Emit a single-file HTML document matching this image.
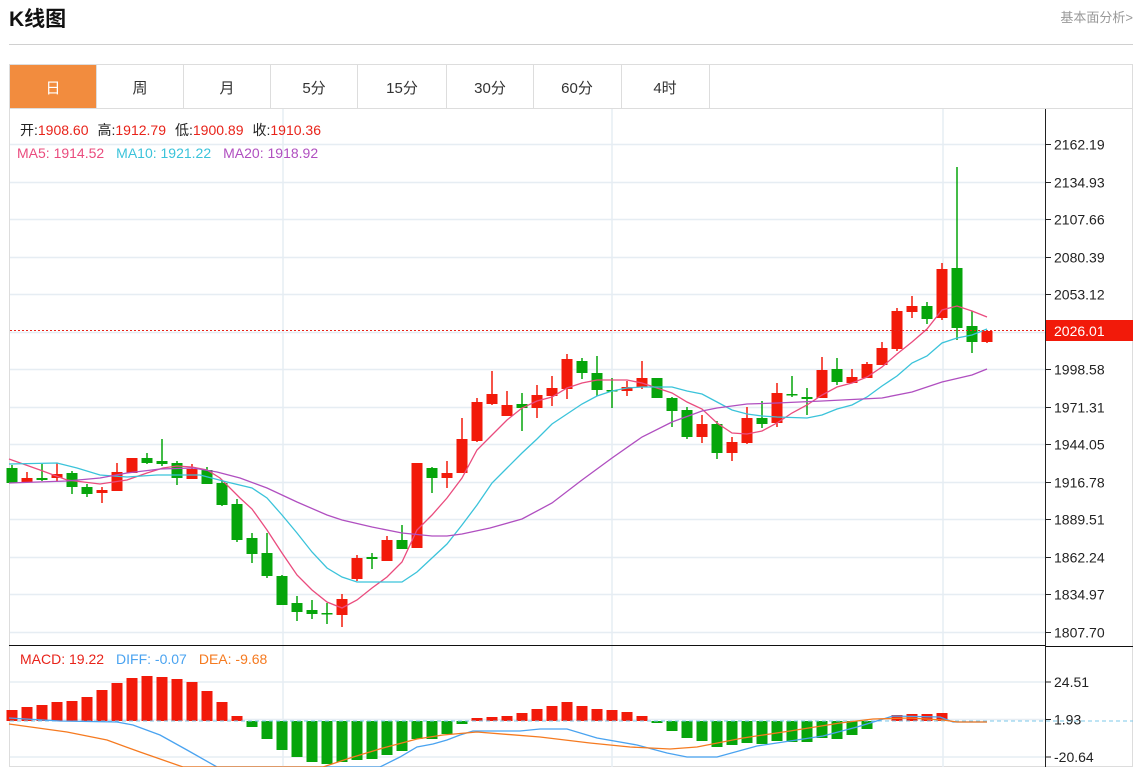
<!DOCTYPE html>
<html><head><meta charset="utf-8">
<style>
html,body{margin:0;padding:0;background:#fff;width:1142px;height:767px;overflow:hidden;font-family:"Liberation Sans","Noto Sans CJK SC",sans-serif;}
</style></head>
<body>
<svg id="s" width="1142" height="767" xmlns="http://www.w3.org/2000/svg" font-family="Liberation Sans, Noto Sans CJK SC, sans-serif">
<text x="9" y="26" font-size="21" font-weight="bold" fill="#111">K线图</text>
<text x="1133" y="22" font-size="13" fill="#999" text-anchor="end">基本面分析&gt;</text>
<line x1="9" y1="44.5" x2="1133" y2="44.5" stroke="#d0d0d0"/>
<rect x="9.5" y="64.5" width="1123" height="702" fill="none" stroke="#ddd"/>
<line x1="9" y1="108.5" x2="1133" y2="108.5" stroke="#ddd"/>
<rect x="10" y="65" width="86" height="43" fill="#f28c3e"/>
<g font-size="15" text-anchor="middle" fill="#333">
<text x="53" y="93" fill="#fff">日</text>
<text x="140" y="93">周</text><text x="227" y="93">月</text><text x="314" y="93">5分</text>
<text x="402" y="93">15分</text><text x="490" y="93">30分</text><text x="577" y="93">60分</text><text x="665" y="93">4时</text>
</g>
<g stroke="#ddd"><line x1="96.5" y1="65" x2="96.5" y2="108"/><line x1="183.5" y1="65" x2="183.5" y2="108"/><line x1="270.5" y1="65" x2="270.5" y2="108"/><line x1="357.5" y1="65" x2="357.5" y2="108"/><line x1="446.5" y1="65" x2="446.5" y2="108"/><line x1="533.5" y1="65" x2="533.5" y2="108"/><line x1="621.5" y1="65" x2="621.5" y2="108"/><line x1="709.5" y1="65" x2="709.5" y2="108"/></g>
<g id="grid"></g>
<g id="plot"></g>
<line x1="1045.5" y1="109" x2="1045.5" y2="767" stroke="#222"/>
<line x1="9" y1="645.5" x2="1045" y2="645.5" stroke="#111"/>
<line x1="1045" y1="646.5" x2="1133" y2="646.5" stroke="#111"/>
<g font-size="14">
<text x="20" y="135"><tspan fill="#222">开:</tspan><tspan fill="#e8231a">1908.60</tspan><tspan fill="#222" dx="9">高:</tspan><tspan fill="#e8231a">1912.79</tspan><tspan fill="#222" dx="9">低:</tspan><tspan fill="#e8231a">1900.89</tspan><tspan fill="#222" dx="9">收:</tspan><tspan fill="#e8231a">1910.36</tspan></text>
<text x="17" y="158"><tspan fill="#ea4c7e">MA5: 1914.52</tspan><tspan fill="#3bc3da" dx="12">MA10: 1921.22</tspan><tspan fill="#b04fc0" dx="12">MA20: 1918.92</tspan></text>
<text x="20" y="664"><tspan fill="#e8231a">MACD: 19.22</tspan><tspan fill="#4aa3f0" dx="12">DIFF: -0.07</tspan><tspan fill="#f57a20" dx="12">DEA: -9.68</tspan></text>
</g>
</svg>
<script>
var NS="http://www.w3.org/2000/svg";
function el(p,t,a){var e=document.createElementNS(NS,t);for(var k in a)e.setAttribute(k,a[k]);p.appendChild(e);return e;}
var g=document.getElementById('grid'),p=document.getElementById('plot'),s=document.getElementById('s');
var labs=["2162.19","2134.93","2107.66","2080.39","2053.12","2026.01","1998.58","1971.31","1944.05","1916.78","1889.51","1862.24","1834.97","1807.70"];
for(var i=0;i<14;i++){var y=Math.round(144+i*37.54)+0.5;
 el(g,'line',{x1:10,y1:y,x2:1045,y2:y,stroke:'#e6edf3','stroke-width':1.5});
 el(s,'line',{x1:1045,y1:y,x2:1051,y2:y,stroke:'#222'});
 if(i!=5){var t=el(s,'text',{x:1054,y:y+5,'font-size':14,fill:'#222'});t.textContent=labs[i];}}
[[682,"24.51"],[719.5,"1.93"],[757,"-20.64"]].forEach(function(a){var y=a[0];
 el(g,'line',{x1:10,y1:y,x2:1045,y2:y,stroke:'#e6edf3','stroke-width':1.5});
 el(s,'line',{x1:1045,y1:y,x2:1051,y2:y,stroke:'#222'});
 var t=el(s,'text',{x:1054,y:y+5,'font-size':14,fill:'#222'});t.textContent=a[1];});
[283,612,943].forEach(function(x){el(g,'line',{x1:x,y1:109,x2:x,y2:767,stroke:'#e6edf3','stroke-width':1.5});});
// candles: [bodyTop, bodyBot, high, low, color r/g]
var C=[[468,483,465,483,'g'],[478,482,472,482,'r'],[478,480,464,481,'g'],[474,478,463,482,'r'],[473,487,471,494,'g'],[487,494,484,497,'g'],[490,493,487,503,'r'],[472,491,463,491,'r'],[458,473,458,473,'r'],[458,463,453,464,'g'],
[461,464,439,466,'g'],[463,478,461,485,'g'],[469,479,464,479,'r'],[470,484,467,484,'g'],[483,505,481,506,'g'],[504,540,499,542,'g'],[538,554,533,563,'g'],[553,576,533,578,'g'],[576,605,575,605,'g'],[603,612,596,621,'g'],
[610,614,600,619,'g'],[613,614,603,624,'g'],[599,615,594,627,'r'],[558,579,555,581,'r'],[557,559,553,569,'g'],[540,561,536,561,'r'],[540,549,525,549,'g'],[463,548,463,548,'r'],[468,478,467,493,'g'],[473,478,461,488,'r'],
[439,473,418,473,'r'],[402,441,398,442,'r'],[394,404,371,405,'r'],[405,416,391,416,'r'],[404,408,393,431,'g'],[395,408,385,418,'r'],[388,396,376,406,'r'],[359,389,354,399,'r'],[361,373,358,379,'g'],[373,390,356,396,'g'],
[390,391,378,408,'g'],[387,391,381,396,'r'],[378,387,361,389,'r'],[378,398,378,398,'g'],[398,411,397,427,'g'],[410,437,407,439,'g'],[424,437,415,443,'r'],[424,453,421,459,'g'],[442,453,437,461,'r'],[418,443,407,444,'r'],
[418,424,401,428,'g'],[393,423,383,427,'r'],[394,395,376,397,'g'],[397,399,388,415,'g'],[370,398,357,398,'r'],[369,382,358,385,'g'],[377,383,369,383,'r'],[364,378,362,378,'r'],[348,365,342,365,'r'],[311,349,308,351,'r'],
[306,312,296,318,'r'],[306,319,302,324,'g'],[269,318,263,320,'r'],[268,328,167,340,'g'],[326,342,311,353,'g'],[331,342,331,343,'r']];
var RED='#f21a0a',GRN='#06a50b';
// macd bars: top/bottom y value relative baseline 721
var M=[710,707,705,702,701,697,690,683,678,676,677,679,682,691,702,716,727,739,750,757,762,764,762,760,759,755,751,739,739,734,724,718,717,716,713,709,706,702,706,709,710,712,716,723,731,738,741,747,745,743,744,741,742,742,738,739,735,729,721,715,714,714,713,721,721,721];
for(var i=0;i<66;i++){var x=12+15*i,M0=M[i];
 if(M0!=721){var c=M0<721?RED:GRN;el(p,'rect',{x:x-5.5,y:Math.min(M0,721),width:11,height:Math.max(1.5,Math.abs(M0-721)),fill:c});}}
el(p,'line',{x1:10,y1:721,x2:1133,y2:721,stroke:'#7cc8ea','stroke-dasharray':'4,3'});
for(var i=0;i<66;i++){var d=C[i],x=12+15*i,c=d[4]=='r'?RED:GRN;
 el(p,'line',{x1:x,y1:d[2],x2:x,y2:d[3],stroke:c,'stroke-width':1.5});
 el(p,'rect',{x:x-5.5,y:d[0],width:11,height:Math.max(1.5,d[1]-d[0]),fill:c});}
function pl(pts,col){el(p,'polyline',{points:pts,fill:'none',stroke:col,'stroke-width':1.3});}
pl("9,459 40,470 67,480 100,484 127,480 147,473 163,468 177,466 192,467 207,470 220,478 240,498 252,509 267,530 282,553 297,575 312,590 327,602 342,608 357,600 372,588 387,577 402,562 417,530 432,515 447,498 462,478 477,450 492,435 507,420 522,408 537,401 552,397 567,388 582,383 597,380 612,380 627,380 642,383 657,388 672,393 687,402 702,409 717,423 732,433 747,434 762,431 777,423 792,413 807,405 822,395 837,387 852,383 867,377 882,367 897,354 912,342 927,329 942,310 957,306 972,311 987,317",'#ea4c7e');
pl("9,464 57,463 77,468 100,475 127,477 157,475 200,475 227,482 252,488 267,498 282,515 297,533 312,552 327,568 342,577 357,582 402,582 417,572 432,558 447,544 462,525 477,505 492,483 507,468 522,453 537,439 552,424 567,414 582,404 597,396 612,391 627,388 642,387 672,387 687,391 702,394 717,402 732,410 747,414 762,416 777,417 807,418 822,415 837,409 852,405 867,397 882,386 897,376 912,363 927,356 942,343 957,338 972,335 987,329",'#3bc3da');
pl("9,483 67,481 100,478 127,473 160,469 193,468 217,472 240,478 267,488 297,502 327,515 342,520 372,527 402,533 432,536 447,536 462,534 490,528 522,519 552,503 582,480 612,458 642,437 672,422 702,411 717,408 747,404 777,403 822,401 882,398 912,392 942,382 972,375 987,369",'#b04fc0');
pl("9,718 60,721 117,722 133,725 160,735 187,750 217,767 380,767 400,757 417,747 433,744 447,740 460,735 473,731 520,731 540,729 567,729 597,738 637,745 667,753 687,757 717,757 757,746 790,741 823,736 857,727 893,716 940,717 953,722 987,722",'#4aa3f0');
pl("9,724 67,732 107,740 140,752 183,767 323,767 350,758 383,748 417,739 443,735 477,732 540,737 590,743 630,747 670,749 697,747 743,738 790,731 840,723 873,719 910,718 943,720 957,722 987,722",'#f57a20');
el(p,'line',{x1:10,y1:330.5,x2:1045,y2:330.5,stroke:'#e8231a','stroke-dasharray':'2,2'});
el(s,'rect',{x:1046,y:320,width:87,height:21,fill:'#f21a0a'});
var t=el(s,'text',{x:1054,y:336,'font-size':14,fill:'#fff'});t.textContent="2026.01";
</script>
</body></html>
